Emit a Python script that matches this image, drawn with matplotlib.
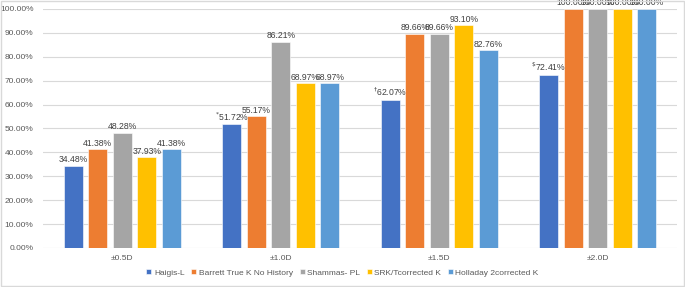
import matplotlib
matplotlib.use("Agg")
import matplotlib.pyplot as plt
import numpy as np
from matplotlib.patches import Rectangle

categories = ["±0.5D", "±1.0D", "±1.5D", "±2.0D"]
series_names = ["Haigis-L", "Barrett True K No History", "Shammas- PL",
                "SRK/Tcorrected K", "Holladay 2corrected K"]
haigis = [34.48, 51.72, 62.07, 72.41]
barrett = [41.38, 55.17, 89.66, 100.00]
shammas = [48.28, 86.21, 89.66, 100.00]
srkt = [37.93, 68.97, 93.10, 100.00]
holladay = [41.38, 68.97, 82.76, 100.00]
haigis_marks = ["", "*", r"\dagger", r"\$"]
colors = ["#4472C4", "#ED7D31", "#A5A5A5", "#FFC000", "#5B9BD5"]

plt.rcParams['font.family'] = ['Liberation Sans', 'DejaVu Sans']
txt = "#595959"

fig = plt.figure(figsize=(6.85, 2.87), dpi=100)
ax = fig.add_axes([0.063, 0.136, 0.925, 0.833])
fig.patches.append(Rectangle((0.002, 0.003), 0.996, 0.994, transform=fig.transFigure,
                             fill=False, edgecolor="#d9d9d9", linewidth=1.0))

x = np.arange(len(categories))
step = 0.155
width = 0.12
all_series = [haigis, barrett, shammas, srkt, holladay]
for i, (vals, name, c) in enumerate(zip(all_series, series_names, colors)):
    pos = x + (i - 2) * step
    ax.bar(pos, [v / 100 for v in vals], width=width, color=c, label=name,
           edgecolor="white", linewidth=0.4, zorder=3)
    for j, (p, v) in enumerate(zip(pos, vals)):
        lab = f"{v:.2f}%"
        if i == 0 and haigis_marks[j]:
            lab = r"$^{" + haigis_marks[j] + "}$" + lab
        ax.text(p, v / 100 + 0.006, lab, ha="center", va="bottom",
                fontsize=6.2, color="#404040", zorder=4)

ax.set_xlim(-0.5, 3.5)
ax.set_ylim(0, 1.0)
ax.set_yticks(np.arange(0, 1.01, 0.1))
ax.set_yticklabels([f"{t*100:.2f}%" for t in np.arange(0, 1.01, 0.1)])
ax.set_xticks(x)
ax.set_xticklabels(categories)
ax.tick_params(axis="both", length=0, labelsize=6.0, colors=txt)
ax.tick_params(axis="x", pad=5)
ax.tick_params(axis="y", pad=7)
ax.grid(axis="y", color="#d9d9d9", linewidth=0.8, zorder=0)
for s in ax.spines.values():
    s.set_visible(False)

leg = fig.legend(loc="center", bbox_to_anchor=(0.5, 0.049), ncol=5, frameon=False,
                 fontsize=6.0, handlelength=0.6, handleheight=0.6, handletextpad=0.3,
                 columnspacing=0.8, labelcolor=txt)

fig.savefig("out.png", dpi=100)
